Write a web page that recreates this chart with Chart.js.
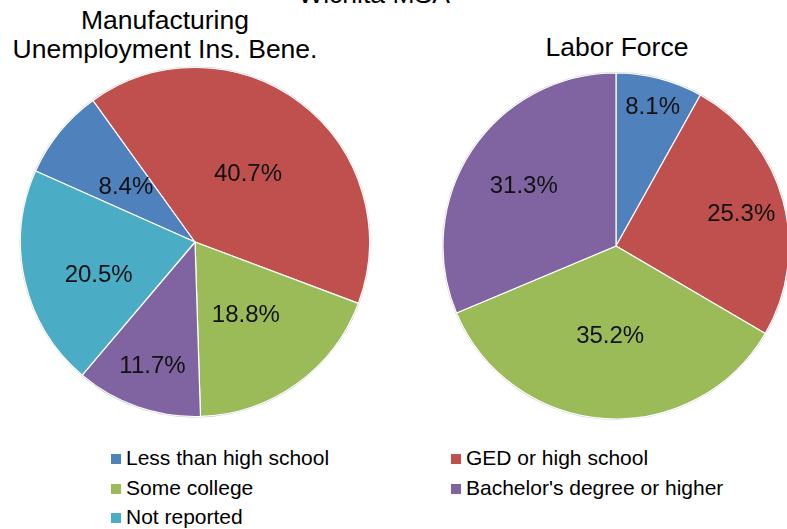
<!DOCTYPE html>
<html>
<head>
<meta charset="utf-8">
<title>Wichita MSA</title>
<script src="https://cdn.jsdelivr.net/npm/chart.js@4.4.1/dist/chart.umd.min.js"></script>
<style>
  html, body { margin: 0; padding: 0; background: #fff; }
  body { width: 787px; height: 529px; position: relative; overflow: hidden;
         font-family: "Liberation Sans", Arial, sans-serif; color: #000; }
  .title { position: absolute; text-align: center; font-size: 26.5px; line-height: 29px; white-space: nowrap; }
  canvas { position: absolute; }
  #legend { position: absolute; left: 111px; top: 443px; width: 660px; font-size: 21px; line-height: 29.5px; }
  #legend .item { position: absolute; white-space: nowrap; }
  #legend .box { display: inline-block; width: 10px; height: 10px; margin-right: 5px; vertical-align: 1px; }
</style>
</head>
<body>
<div class="title" style="left:224px; top:-20px; width:300px;">Wichita MSA</div>
<div class="title" style="left:0px; top:6px; width:330px;">Manufacturing<br>Unemployment Ins. Bene.</div>
<div class="title" style="left:467px; top:33px; width:300px;">Labor Force</div>

<canvas id="manuChart" width="360" height="360" style="left:15px; top:62px;"></canvas>
<canvas id="laborChart" width="350" height="350" style="left:441px; top:71px;"></canvas>

<div id="legend"></div>

<script>
// data (percent)
var categories = ["Less than high school", "GED or high school", "Some college", "Bachelor's degree or higher", "Not reported"];
var manufacturingValues = [8.4, 40.7, 18.8, 11.7, 20.5];
var laborForceValues = [8.1, 25.3, 35.2, 31.3];

var colors = ["#4F81BD", "#C0504D", "#9BBB59", "#8064A2", "#4BACC6"];

// thin grey rim behind the pie + percent labels on the slices
var pieExtras = {
  id: "pieExtras",
  beforeDatasetsDraw: function(chart) {
    var arc = chart.getDatasetMeta(0).data[0];
    if (!arc) return;
    var ctx = chart.ctx;
    ctx.save();
    ctx.beginPath();
    ctx.arc(arc.x, arc.y, arc.outerRadius + 1, 0, Math.PI * 2);
    ctx.fillStyle = "#c9c9c9";
    ctx.fill();
    ctx.restore();
  },
  afterDatasetsDraw: function(chart, args, opts) {
    var ctx = chart.ctx;
    var ds = chart.data.datasets[0];
    ctx.save();
    ctx.font = "24px 'Liberation Sans', Arial, sans-serif";
    ctx.fillStyle = "#111";
    ctx.textAlign = "center";
    ctx.textBaseline = "middle";
    chart.getDatasetMeta(0).data.forEach(function(arc, i) {
      var mid = (arc.startAngle + arc.endAngle) / 2 + (opts.labelTurn[i] || 0) * Math.PI / 180;
      var f = opts.labelRadius[i];
      var x = arc.x + Math.cos(mid) * arc.outerRadius * f;
      var y = arc.y + Math.sin(mid) * arc.outerRadius * f + 2;
      ctx.fillText(ds.data[i].toFixed(1) + "%", x, y);
    });
    ctx.restore();
  }
};

function makePie(id, values, rotation, radius, labelRadius, labelTurn) {
  return new Chart(document.getElementById(id), {
    type: "pie",
    data: {
      labels: categories.slice(0, values.length),
      datasets: [{
        data: values,
        backgroundColor: colors.slice(0, values.length),
        borderColor: "#ffffff",
        borderWidth: 1.2
      }]
    },
    options: {
      responsive: false,
      animation: false,
      rotation: rotation,
      radius: radius,
      layout: { padding: 0 },
      plugins: {
        legend: { display: false },
        title: { display: false },
        tooltip: { enabled: false },
        pieExtras: { labelRadius: labelRadius, labelTurn: labelTurn }
      }
    },
    plugins: [pieExtras]
  });
}

makePie("manuChart", manufacturingValues, -66, 174.5, [0.51, 0.5, 0.5, 0.74, 0.58], [0, 0, 0, 0, -5]);
makePie("laborChart", laborForceValues, 0, 173, [0.84, 0.75, 0.51, 0.64], [0, 0, 0, 0]);

// legend, two columns
var legend = document.getElementById("legend");
var colX = [0, 340];
categories.forEach(function(name, i) {
  var item = document.createElement("div");
  item.className = "item";
  item.style.left = colX[i % 2] + "px";
  item.style.top = (Math.floor(i / 2) * 29.5) + "px";
  var box = document.createElement("span");
  box.className = "box";
  box.style.background = colors[i];
  item.appendChild(box);
  item.appendChild(document.createTextNode(name));
  legend.appendChild(item);
});
</script>
</body>
</html>
